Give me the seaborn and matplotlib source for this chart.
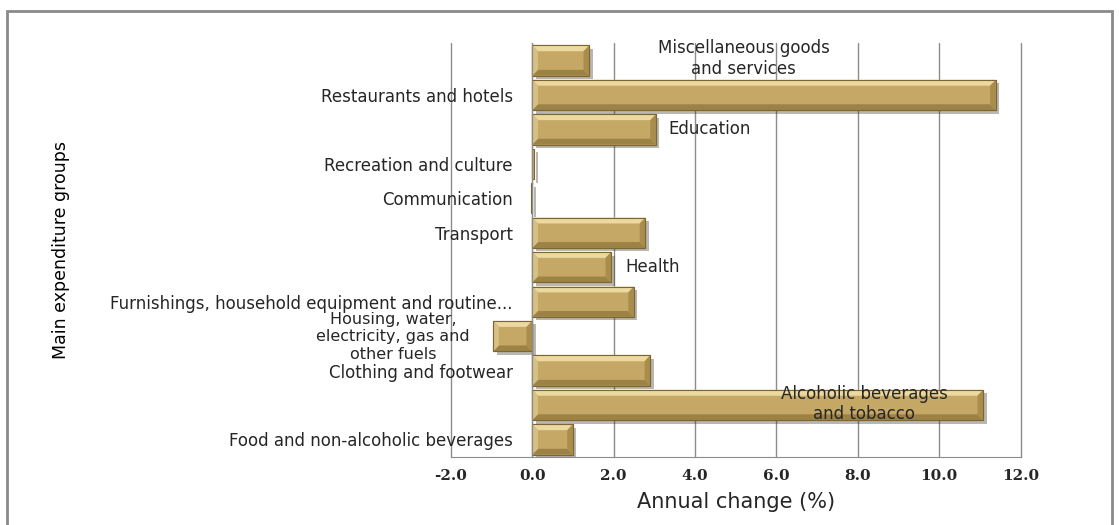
import numpy as np
import pandas as pd
import seaborn as sns
import matplotlib.pyplot as plt
import matplotlib.patheffects as pe
from matplotlib.patches import Polygon, Rectangle
from matplotlib.ticker import FormatStrFormatter

# categories listed top to bottom as drawn
categories = ['Miscellaneous goods and services', 'Restaurants and hotels', 'Education',
              'Recreation and culture', 'Communication', 'Transport', 'Health',
              'Furnishings, household equipment and routine maintenance',
              'Housing, water, electricity, gas and other fuels', 'Clothing and footwear',
              'Alcoholic beverages and tobacco', 'Food and non-alcoholic beverages']
changes = [1.40, 11.39, 3.04, 0.05, -0.03, 2.78, 1.94, 2.50, -0.96, 2.90, 11.08, 1.00]

# labels shown next to the axis ('' = label placed elsewhere by excel)
axis_labels = ['', 'Restaurants and hotels', '', 'Recreation and culture', 'Communication',
               'Transport', '', 'Furnishings, household equipment and routine...', '',
               'Clothing and footwear', '', 'Food and non-alcoholic beverages']
x_ticks = [-2, 0, 2, 4, 6, 8, 10, 12]

df = pd.DataFrame({'group': categories, 'change': changes})

sns.set_style('white')
plt.rcParams['font.family'] = ['DejaVu Sans']
plt.rcParams['axes.unicode_minus'] = False

fig = plt.figure(figsize=(11.19, 5.25), dpi=100)
ax = fig.add_axes([0.4029, 0.1301, 0.5092, 0.7874])

grey = '#8c8c8c'
sns.barplot(data=df, x='change', y='group', order=categories, orient='h',
            color='#c6a866', width=0.88, edgecolor='#7d6632', linewidth=0.8,
            saturation=1, ax=ax, zorder=3)

# bevel look on every bar
dx, dy = 0.14, 0.17
for p in ax.patches:
    p.set_path_effects([pe.SimplePatchShadow(offset=(2.5, -2.5), alpha=0.35), pe.Normal()])
    x0 = min(p.get_x(), p.get_x() + p.get_width())
    x1 = max(p.get_x(), p.get_x() + p.get_width())
    yt = p.get_y()
    yb = p.get_y() + p.get_height()
    if x1 - x0 < 3 * dx:
        continue
    faces = [
        ([(x0, yt), (x1, yt), (x1 - dx, yt + dy), (x0 + dx, yt + dy)], '#ecd9a0'),
        ([(x0, yb), (x1, yb), (x1 - dx, yb - dy), (x0 + dx, yb - dy)], '#9c8244'),
        ([(x0, yt), (x0 + dx, yt + dy), (x0 + dx, yb - dy), (x0, yb)], '#d8bf82'),
        ([(x1, yt), (x1 - dx, yt + dy), (x1 - dx, yb - dy), (x1, yb)], '#a98d4d'),
    ]
    for pts, c in faces:
        ax.add_patch(Polygon(pts, closed=True, facecolor=c, edgecolor='none', zorder=4))
    ax.add_patch(Rectangle((x0, yt), x1 - x0, yb - yt, fill=False,
                           edgecolor='#7d6632', linewidth=0.8, zorder=5))

ax.set_xlim(-2, 12)
ax.set_ylim(11.5, -0.5)
ax.set_xticks(x_ticks)
ax.xaxis.set_major_formatter(FormatStrFormatter('%.1f'))
ax.tick_params(axis='x', length=4, width=1, color=grey, pad=5, labelsize=11)
for t in ax.get_xticklabels():
    t.set_family('DejaVu Serif')
    t.set_fontweight('bold')
ax.grid(axis='x', color=grey, linewidth=1, zorder=0)
for g in ax.get_xgridlines():
    g.set_clip_on(False)
ax.set_axisbelow(True)

ax.set_yticks(range(len(categories)))
ax.set_yticklabels(axis_labels)
ax.set_yticks(np.arange(-0.5, len(categories), 1), minor=True)
ax.tick_params(axis='y', which='major', length=0, pad=14, labelsize=12, labelcolor='#262626')
ax.tick_params(axis='y', which='minor', length=5, width=1, color=grey, direction='out')

for s in ['top', 'right']:
    ax.spines[s].set_visible(False)
ax.spines['left'].set_position(('data', 0))
ax.spines['left'].set_color(grey)
ax.spines['bottom'].set_color(grey)
ax.spines['left'].set_zorder(6)

# labels that excel pushed away from the axis
note_kw = dict(color='#262626', va='center', zorder=7)
ax.text(5.2, -0.06, 'Miscellaneous goods\nand services', ha='center', fontsize=12,
        linespacing=1.15, **note_kw)
ax.text(3.35, 2, 'Education', ha='left', fontsize=12, **note_kw)
ax.text(2.3, 6, 'Health', ha='left', fontsize=12, **note_kw)
ax.text(-3.42, 8.02, 'Housing, water,\nelectricity, gas and\nother fuels', ha='center',
        fontsize=11.5, linespacing=1.2, clip_on=False, **note_kw)
ax.text(8.15, 9.97, 'Alcoholic beverages\nand tobacco', ha='center', fontsize=12,
        linespacing=1.15, **note_kw)

ax.set_xlabel('Annual change (%)', fontsize=15, color='#262626')
ax.xaxis.set_label_coords(0.5, -0.11)
ax.xaxis.label.set_va('center')
ax.set_ylabel('Main expenditure groups', fontsize=12.5, color='black')
ax.yaxis.set_label_coords(-0.685, 0.5)
ax.yaxis.label.set_va('center')

# chart area border
fig.add_artist(Rectangle((7 / 1119, -0.02), (1112 - 7) / 1119, (525 - 11) / 525 + 0.02,
                         transform=fig.transFigure, fill=False, edgecolor='#8a8a8a',
                         linewidth=2))

fig.savefig('out.png', dpi=100)
